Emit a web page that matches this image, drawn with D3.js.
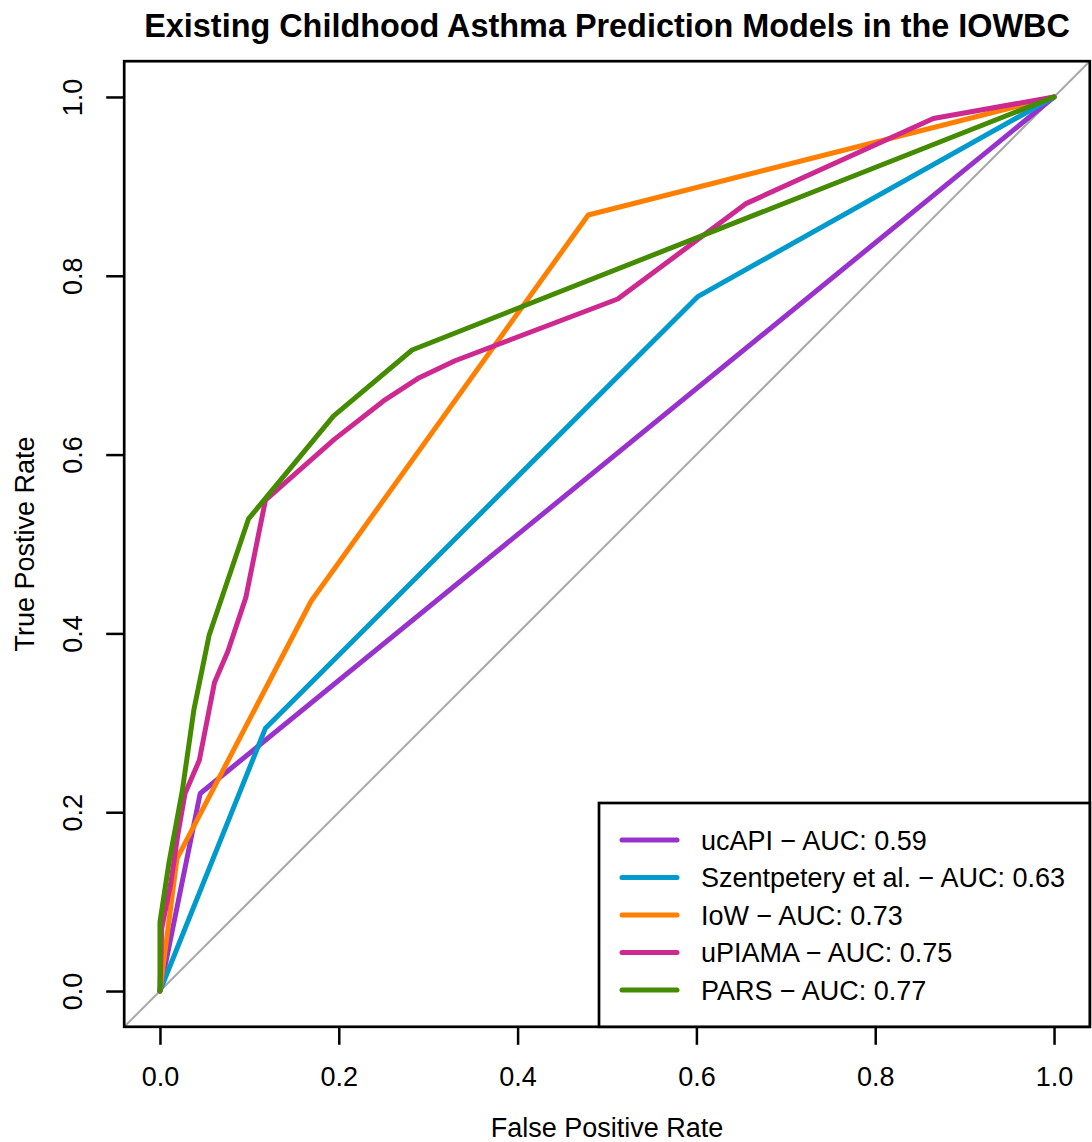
<!DOCTYPE html>
<html>
<head>
<meta charset="utf-8">
<script src="https://cdn.jsdelivr.net/npm/d3@7"></script>
<style>
  html, body { margin: 0; padding: 0; background: #ffffff; }
  text { font-family: "Liberation Sans", Arial, sans-serif; fill: #000; }
</style>
</head>
<body>
<svg id="chart" width="1092" height="1142"></svg>
<script>
// ROC curves of existing childhood asthma prediction models (IOWBC)
const modelNames = ["ucAPI", "Szentpetery et al.", "IoW", "uPIAMA", "PARS"];
const aucValues = [0.59, 0.63, 0.73, 0.75, 0.77];
const modelColors = ["#9932CC", "#009ACD", "#FF7F00", "#CD2990", "#458B00"];

// false positive rate / true positive rate of each curve's vertices
const ucapiFpr = [0, 0.045, 1];
const ucapiTpr = [0, 0.221, 1];
const szentFpr = [0, 0.118, 0.602, 1];
const szentTpr = [0, 0.294, 0.777, 1];
const iowFpr = [0, 0.019, 0.169, 0.479, 1];
const iowTpr = [0, 0.148, 0.436, 0.868, 1];
const piamaFpr = [0, 0.002, 0.012, 0.020, 0.028, 0.044, 0.061, 0.076, 0.096, 0.118, 0.195, 0.250, 0.290, 0.330, 0.512, 0.656, 0.865, 1];
const piamaTpr = [0, 0.070, 0.120, 0.175, 0.221, 0.258, 0.345, 0.380, 0.440, 0.549, 0.617, 0.660, 0.686, 0.705, 0.774, 0.881, 0.976, 1];
const parsFpr = [0, 0, 0.010, 0.025, 0.038, 0.055, 0.099, 0.194, 0.282, 1];
const parsTpr = [0, 0.077, 0.143, 0.224, 0.315, 0.398, 0.528, 0.643, 0.717, 1];

const xTicks = [0, 0.2, 0.4, 0.6, 0.8, 1.0];
const yTicks = [0, 0.2, 0.4, 0.6, 0.8, 1.0];

const titleText = "Existing Childhood Asthma Prediction Models in the IOWBC";
const xLabel = "False Positive Rate";
const yLabel = "True Postive Rate";

const curves = [
  { fpr: ucapiFpr, tpr: ucapiTpr },
  { fpr: szentFpr, tpr: szentTpr },
  { fpr: iowFpr, tpr: iowTpr },
  { fpr: piamaFpr, tpr: piamaTpr },
  { fpr: parsFpr, tpr: parsTpr }
];

const svg = d3.select("#chart");
svg.append("rect").attr("width", 1092).attr("height", 1142).attr("fill", "#fff");

// plot region: R-style 4% padding around [0, 1]
const x = d3.scaleLinear().domain([-0.04, 1.04]).range([124.2, 1089.8]);
const y = d3.scaleLinear().domain([-0.04, 1.04]).range([1026.8, 61.2]);
const fontSize = 27;

svg.append("clipPath").attr("id", "plotClip")
  .append("rect")
  .attr("x", x(-0.04)).attr("y", y(1.04))
  .attr("width", x(1.04) - x(-0.04)).attr("height", y(-0.04) - y(1.04));

const plot = svg.append("g").attr("clip-path", "url(#plotClip)");

// chance diagonal
plot.append("line")
  .attr("x1", x(-0.04)).attr("y1", y(-0.04))
  .attr("x2", x(1.04)).attr("y2", y(1.04))
  .attr("stroke", "#a8a8a8").attr("stroke-width", 2);

const line = d3.line().x(d => x(d[0])).y(d => y(d[1]));

curves.forEach((c, i) => {
  const pts = c.fpr.map((f, k) => [f, c.tpr[k]]);
  plot.append("path")
    .attr("d", line(pts))
    .attr("fill", "none")
    .attr("stroke", modelColors[i])
    .attr("stroke-width", 5)
    .attr("stroke-linejoin", "round")
    .attr("stroke-linecap", "round");
});

// x axis
const xAxis = svg.append("g")
  .attr("transform", `translate(0,${y(-0.04)})`)
  .call(d3.axisBottom(x).tickValues(xTicks).tickSize(18).tickPadding(22).tickFormat(d3.format(".1f")));
xAxis.select(".domain").remove();
xAxis.selectAll(".tick line").attr("stroke", "#000").attr("stroke-width", 2.5);
xAxis.selectAll(".tick text")
  .style("font-family", '"Liberation Sans", Arial, sans-serif')
  .style("font-size", fontSize + "px").attr("fill", "#000");

// y axis with labels parallel to the axis
const yAxis = svg.append("g")
  .attr("transform", `translate(${x(-0.04)},0)`)
  .call(d3.axisLeft(y).tickValues(yTicks).tickSize(18).tickFormat(d3.format(".1f")));
yAxis.select(".domain").remove();
yAxis.selectAll(".tick line").attr("stroke", "#000").attr("stroke-width", 2.5);
yAxis.selectAll(".tick text")
  .attr("transform", "rotate(-90)")
  .attr("x", 0).attr("y", -42).attr("dy", null)
  .attr("text-anchor", "middle")
  .style("font-family", '"Liberation Sans", Arial, sans-serif')
  .style("font-size", fontSize + "px").attr("fill", "#000");

// plot frame
svg.append("rect")
  .attr("x", x(-0.04)).attr("y", y(1.04))
  .attr("width", x(1.04) - x(-0.04)).attr("height", y(-0.04) - y(1.04))
  .attr("fill", "none").attr("stroke", "#000").attr("stroke-width", 2.7);

// titles
const midX = (x(-0.04) + x(1.04)) / 2;
const midY = (y(-0.04) + y(1.04)) / 2;
svg.append("text")
  .attr("x", midX).attr("y", 37)
  .attr("text-anchor", "middle")
  .style("font-size", (fontSize * 1.2) + "px").style("font-weight", "bold")
  .text(titleText);
svg.append("text")
  .attr("x", midX).attr("y", 1137)
  .attr("text-anchor", "middle")
  .style("font-size", fontSize + "px")
  .text(xLabel);
svg.append("text")
  .attr("transform", `translate(34,${midY}) rotate(-90)`)
  .attr("text-anchor", "middle")
  .style("font-size", fontSize + "px")
  .text(yLabel);

// legend in the bottom-right corner
const legX0 = 599, legY0 = 803;
const legend = svg.append("g");
legend.append("rect")
  .attr("x", legX0).attr("y", legY0)
  .attr("width", x(1.04) - legX0).attr("height", y(-0.04) - legY0)
  .attr("fill", "#fff").attr("stroke", "#000").attr("stroke-width", 2.7);
const rowGap = 37.5;
modelNames.forEach((name, i) => {
  const ry = legY0 + 37 + i * rowGap;
  legend.append("line")
    .attr("x1", legX0 + 23).attr("x2", legX0 + 78)
    .attr("y1", ry).attr("y2", ry)
    .attr("stroke", modelColors[i]).attr("stroke-width", 5)
    .attr("stroke-linecap", "round");
  legend.append("text")
    .attr("x", legX0 + 102).attr("y", ry + 9.5)
    .style("font-size", fontSize + "px")
    .text(`${name} \u2212 AUC: ${aucValues[i].toFixed(2)}`);
});
</script>
</body>
</html>
